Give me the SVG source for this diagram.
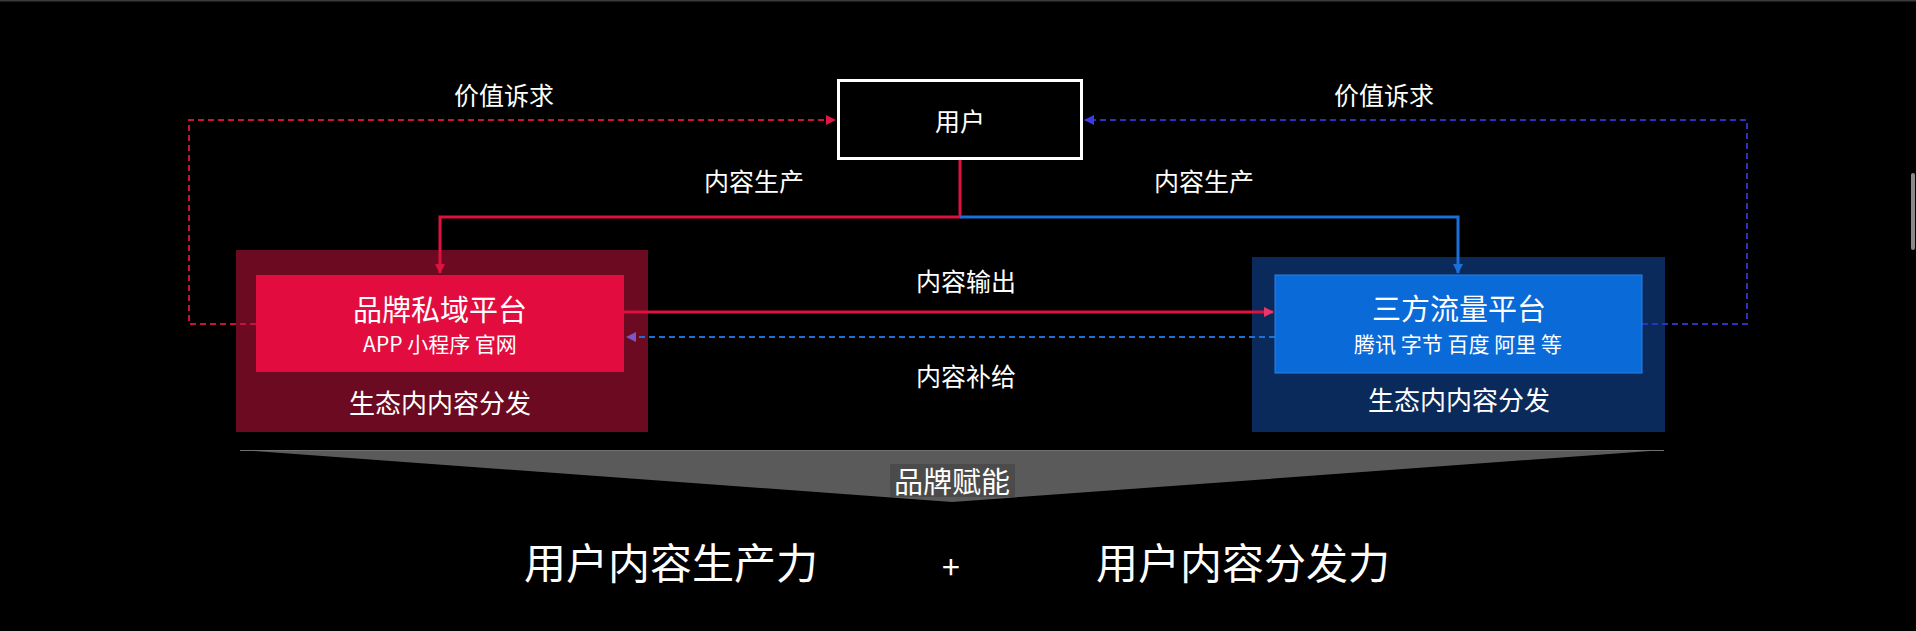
<svg xmlns="http://www.w3.org/2000/svg" width="1916" height="631" viewBox="0 0 1916 631">
<style>
  text { font-family: "Noto Sans CJK SC", "Noto Sans", sans-serif; fill: #ffffff; text-anchor: middle; }
  .lbl { font-size: 25px; }
  .title { font-size: 29px; }
  .sub { font-size: 21px; }
  .eco { font-size: 26px; }
  .big { font-size: 42px; }
  .solid { fill: none; stroke-width: 3; }
  .dash { fill: none; stroke-width: 2; stroke-dasharray: 6 4; }
</style>
<defs>
  <marker id="arRed" markerUnits="userSpaceOnUse" markerWidth="10" markerHeight="10" viewBox="0 0 10 10" refX="9" refY="5" orient="auto">
    <path d="M0,0 L10,5 L0,10 z" fill="#e0103f"/>
  </marker>
  <marker id="arBlue" markerUnits="userSpaceOnUse" markerWidth="10" markerHeight="10" viewBox="0 0 10 10" refX="9" refY="5" orient="auto">
    <path d="M0,0 L10,5 L0,10 z" fill="#1a6fd8"/>
  </marker>
  <marker id="arPink" markerUnits="userSpaceOnUse" markerWidth="10" markerHeight="10" viewBox="0 0 10 10" refX="9" refY="5" orient="auto">
    <path d="M0,0 L10,5 L0,10 z" fill="#e8386a"/>
  </marker>
  <marker id="arDRed" markerUnits="userSpaceOnUse" markerWidth="10" markerHeight="10" viewBox="0 0 10 10" refX="9" refY="5" orient="auto">
    <path d="M0,0 L10,5 L0,10 z" fill="#e0184a"/>
  </marker>
  <marker id="arIndigo" markerUnits="userSpaceOnUse" markerWidth="10" markerHeight="10" viewBox="0 0 10 10" refX="9" refY="5" orient="auto">
    <path d="M0,0 L10,5 L0,10 z" fill="#3a3ae8"/>
  </marker>
  <marker id="arPurple" markerUnits="userSpaceOnUse" markerWidth="10" markerHeight="10" viewBox="0 0 10 10" refX="9" refY="5" orient="auto">
    <path d="M0,0 L10,5 L0,10 z" fill="#7a58c8"/>
  </marker>
</defs>
<rect x="0" y="0" width="1916" height="631" fill="#000000"/>
<rect x="0" y="0" width="1916" height="1.5" fill="#3a3a3a"/>
<rect x="1911" y="173" width="4" height="77" rx="2" fill="#8a8a8a"/>

<g id="node-private-outer">
  <rect x="236" y="250" width="412" height="182" fill="#6b0a20"/>
  <text class="eco" x="440" y="413">生态内内容分发</text>
</g>
<g id="node-third-outer">
  <rect x="1252" y="257" width="413" height="175" fill="#0b2a5c"/>
  <text class="eco" x="1459" y="410">生态内内容分发</text>
</g>

<g id="connectors">
  <path class="solid" stroke="#e0103f" d="M960,160 V217 H440 V273" marker-end="url(#arRed)"/>
  <path class="solid" stroke="#1a6fd8" d="M960,217 H1458 V273" marker-end="url(#arBlue)"/>
  <path class="dash" stroke="#c8123c" d="M256,324 H189 V120 H835" marker-end="url(#arDRed)"/>
  <path class="dash" stroke="#3030c0" d="M1642,324 H1747 V120 H1085" marker-end="url(#arIndigo)"/>
  <path class="solid" stroke="#e0103f" d="M624,312 H1273" marker-end="url(#arPink)"/>
  <path class="dash" stroke="#1f6fd8" d="M1275,337 H627" marker-end="url(#arPurple)"/>
  <text class="lbl" x="504" y="105">价值诉求</text>
  <text class="lbl" x="1384" y="105">价值诉求</text>
  <text class="lbl" x="754" y="191">内容生产</text>
  <text class="lbl" x="1204" y="191">内容生产</text>
  <text class="lbl" x="966" y="291">内容输出</text>
  <text class="lbl" x="966" y="386">内容补给</text>
</g>

<g id="node-user">
  <rect x="838.5" y="80.5" width="243" height="78" fill="#000000" stroke="#ffffff" stroke-width="3"/>
  <text style="font-size:25px" x="960" y="131">用户</text>
</g>

<g id="node-private">
  <rect x="256" y="275" width="368" height="97" fill="#e20d3e"/>
  <text class="title" x="440" y="321">品牌私域平台</text>
  <text class="sub" x="440" y="352">APP 小程序 官网</text>
</g>

<g id="node-third">
  <rect x="1275" y="275" width="367" height="98" fill="#0a6ad8" stroke="#2a80ea" stroke-width="1"/>
  <text class="title" x="1459" y="320">三方流量平台</text>
  <text class="sub" x="1458" y="352">腾讯 字节 百度 阿里 等</text>
</g>

<g id="node-empower">
  <polygon points="240,450 1664,450 952,502" fill="#5a5a5a"/>
  <line x1="240" y1="450.5" x2="1664" y2="450.5" stroke="#707070" stroke-width="1"/>
  <rect x="890" y="464" width="125" height="33" fill="#4b4b4b"/>
  <text class="title" x="952" y="493">品牌赋能</text>
</g>

<g id="node-summary">
  <text class="big" x="671" y="579">用户内容生产力</text>
  <text style="font-size:32px" x="951" y="579">+</text>
  <text class="big" x="1243" y="579">用户内容分发力</text>
</g>
</svg>
